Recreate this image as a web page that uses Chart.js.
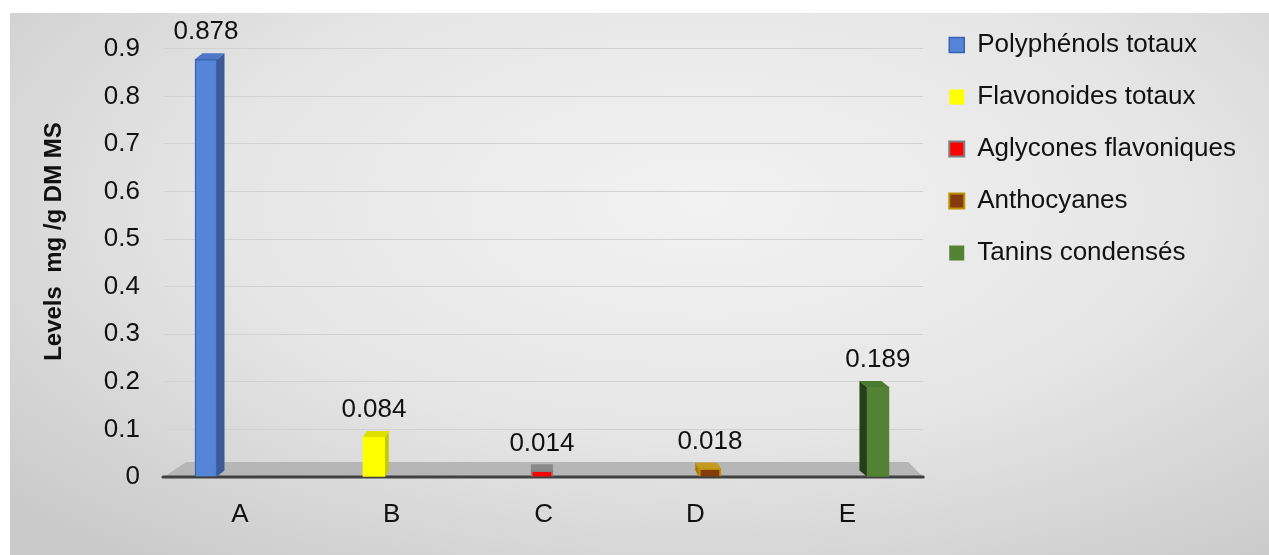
<!DOCTYPE html>
<html>
<head>
<meta charset="utf-8">
<script src="https://cdn.jsdelivr.net/npm/chart.js@4.4.1/dist/chart.umd.min.js"></script>
<style>
  html, body { margin: 0; padding: 0; background: #fff; }
  #wrap { position: relative; width: 1269px; height: 555px; overflow: hidden; }
  #bg {
    position: absolute; left: 10px; top: 13px; right: 0; bottom: 0;
    background: radial-gradient(ellipse 75% 85% at 55% 35%, #f2f2f2 0%, #e6e6e6 50%, #c9c9c9 100%);
  }
  #my-chart { position: absolute; left: 0; top: 0; }
</style>
</head>
<body>
<div id="wrap">
  <div id="bg"></div>
  <canvas id="my-chart" width="1269" height="555"></canvas>
</div>
<script>
// values
const categories = ["A", "B", "C", "D", "E"];
const seriesNames = ["Polyphénols totaux", "Flavonoides totaux", "Aglycones flavoniques", "Anthocyanes", "Tanins condensés"];
const seriesValues = [0.878, 0.084, 0.014, 0.018, 0.189];
const yTickValues = [0, 0.1, 0.2, 0.3, 0.4, 0.5, 0.6, 0.7, 0.8, 0.9];
const yTitle = "Levels  mg /g DM MS";

// colours
const fillColors = ["#5585d6", "#ffff00", "#ff0000", "#843c0c", "#548235"];
const edgeColors = ["#3a62b0", "#ffff00", "#808080", "#bf9000", "#548235"];
const edgeWidths = [1.5, 0, 2, 2, 0];
const sideColors = ["#3d5a96", "#c8c800", "#7a7a7a", "#a67c00", "#22401a"];
const topColors = ["#4d78c8", "#e0e000", "#8a8a8a", "#c59a20", "#4a7a2e"];

Chart.defaults.font.family = "'Liberation Sans', Arial, sans-serif";
Chart.defaults.color = "#111";

// floor, axis line and the fake 3d faces of the bars
const bar3d = {
  id: "bar3d",
  afterLayout(chart) {
    // legend clips to its box, give the longest label some room
    chart.legend.right = chart.width;
    chart.legend.width = chart.legend.right - chart.legend.left;
  },
  beforeDatasetsDraw(chart) {
    const { ctx, chartArea } = chart;
    const y0 = chart.scales.y.getPixelForValue(0);
    ctx.save();
    ctx.fillStyle = "#b6b6b6";
    ctx.beginPath();
    ctx.moveTo(chartArea.left, y0);
    ctx.lineTo(chartArea.left + 22, y0 - 15);
    ctx.lineTo(chartArea.right - 15, y0 - 15);
    ctx.lineTo(chartArea.right, y0);
    ctx.closePath();
    ctx.fill();
    ctx.strokeStyle = "#404040";
    ctx.lineWidth = 3;
    ctx.lineCap = "round";
    ctx.beginPath();
    ctx.moveTo(chartArea.left - 1, y0);
    ctx.lineTo(chartArea.right, y0);
    ctx.stroke();
    ctx.restore();
  },
  afterDatasetsDraw(chart) {
    const { ctx, chartArea } = chart;
    const mid = (chartArea.left + chartArea.right) / 2;
    ctx.save();
    chart.data.datasets.forEach((ds, i) => {
      chart.getDatasetMeta(i).data.forEach((bar, j) => {
        const { x, y, base, width } = bar.getProps(["x", "y", "base", "width"], true);
        const dx = (mid - x) / 45;
        const dy = -6;
        const left = x - width / 2;
        const right = x + width / 2;
        const edge = dx > 0 ? right : left;
        ctx.fillStyle = sideColors[i];
        ctx.beginPath();
        ctx.moveTo(edge, y);
        ctx.lineTo(edge + dx, y + dy);
        ctx.lineTo(edge + dx, base + dy);
        ctx.lineTo(edge, base);
        ctx.closePath();
        ctx.fill();
        ctx.fillStyle = topColors[i];
        ctx.beginPath();
        ctx.moveTo(left, y);
        ctx.lineTo(left + dx, y + dy);
        ctx.lineTo(right + dx, y + dy);
        ctx.lineTo(right, y);
        ctx.closePath();
        ctx.fill();
        // value label
        ctx.fillStyle = "#111";
        ctx.font = "26px 'Liberation Sans', Arial, sans-serif";
        ctx.textAlign = "center";
        ctx.textBaseline = "middle";
        ctx.fillText(ds.data[j].y.toFixed(3), x, y - 27);
      });
    });
    ctx.restore();
  }
};

const ctx = document.getElementById("my-chart").getContext("2d");
const chart = new Chart(ctx, {
  type: "bar",
  data: {
    labels: categories,
    datasets: seriesNames.map((name, i) => ({
      label: name,
      data: [{ x: i, y: seriesValues[i] }],
      xAxisID: "xb",
      backgroundColor: fillColors[i],
      borderColor: edgeColors[i],
      borderWidth: edgeWidths[i],
      barThickness: 22,
      grouped: false
    }))
  },
  options: {
    responsive: false,
    animation: false,
    devicePixelRatio: 1,
    layout: { padding: { top: 6, right: 38, left: 0, bottom: 0 } },
    plugins: {
      tooltip: { enabled: false },
      legend: {
        position: "right",
        align: "start",
        labels: {
          boxWidth: 15,
          boxHeight: 15,
          padding: 26,
          color: "#111",
          font: { size: 26 }
        }
      }
    },
    scales: {
      // category axis: only the A..E labels
      x: {
        type: "category",
        grid: { display: false, drawTicks: false },
        border: { display: false },
        ticks: { padding: 22, color: "#111", font: { size: 26 } },
        afterFit(s) { s.height = 78; }
      },
      // hidden axis the bars sit on (spread wider, as in the 3d view)
      xb: {
        type: "linear",
        display: false,
        offset: false,
        min: -0.25,
        max: 4.27
      },
      y: {
        min: 0,
        max: 0.99,
        grid: { color: "#d2d2d2", lineWidth: 1, drawTicks: false },
        border: { display: false },
        ticks: { padding: 24, color: "#111", font: { size: 26 } },
        afterBuildTicks(s) { s.ticks = yTickValues.map(v => ({ value: v })); },
        afterFit(s) { s.width = 164; s.paddingTop = 0; },
        title: {
          display: true,
          text: yTitle,
          color: "#111",
          font: { size: 24, weight: "bold" },
          padding: { top: 40 }
        }
      }
    }
  },
  plugins: [bar3d]
}); // closes chart = new Chart()
</script>
</body>
</html>
